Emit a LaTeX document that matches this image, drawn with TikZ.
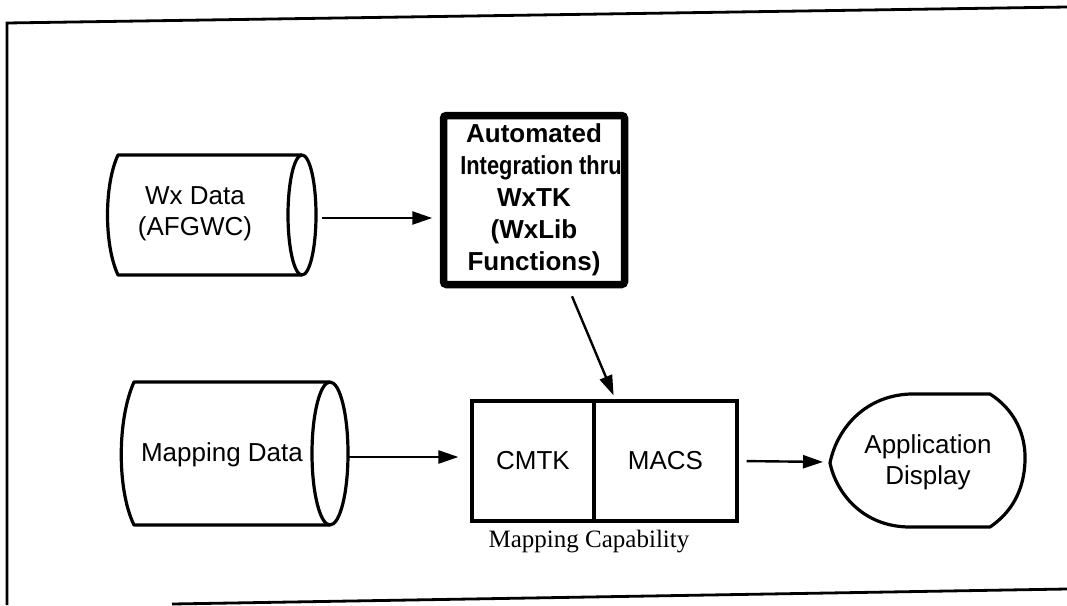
\documentclass[tikz,border=0pt]{standalone}
\usepackage{fontspec}
\usepackage{graphicx}
\setmainfont{Liberation Sans}
\newfontfamily\capserif{Liberation Serif}
\usetikzlibrary{arrows.meta,calc}
\begin{document}
\begin{tikzpicture}[x=1pt,y=-1pt,
  line/.style={line width=3.2pt,line join=round},
  arr/.style={line width=2.4pt,-{Triangle[length=20pt,width=13pt]}},
  lbl/.style={font=\fontsize{26}{31}\selectfont,align=center,inner sep=0pt},
  boxnode/.style={draw,line width=3.2pt,inner sep=0pt,font=\fontsize{26}{31}\selectfont},
  autobox/.style={draw,line width=7.5pt,rounded corners=3pt,minimum width=181pt,minimum height=169pt,inner sep=0pt,font=\bfseries\fontsize{26}{32}\selectfont,align=center}]
\useasboundingbox (0,0) rectangle (1067,605);
% frame
\draw[line width=2.8pt] (7,605) -- (7,23) -- (1067,7);
\draw[line width=2.8pt] (172,604) -- (1067,589);
% Wx data cylinder
\draw[line] (302,155) -- (118,155) .. controls (104,185) and (104,245) .. (118,275) -- (302,275);
\draw[line] (302,215) ellipse [x radius=14, y radius=60];
\node[lbl] (wx) at (195,214) {Wx Data\\(AFGWC)};
\coordinate (wxR) at (316,218);
% automated box
\node[autobox] (auto) at (534,200) {Automated\\\hspace*{14pt}\scalebox{0.84}[1]{Integration thru}\\WxTK\\(WxLib\\Functions)};
% Mapping data cylinder
\draw[line] (330,382) -- (134,382) .. controls (117,420) and (117,490) .. (134,525) -- (330,525);
\draw[line] (330,453.5) ellipse [x radius=18, y radius=71.5];
\node[lbl] (map) at (222,455) {Mapping Data};
\coordinate (mapR) at (348,457);
% mapping capability
\node[boxnode,minimum width=122pt,minimum height=120pt] (cmtk) at (533,461) {CMTK};
\node[boxnode,minimum width=143pt,minimum height=120pt] (macs) at (665.5,461) {MACS};
\node[font=\capserif\fontsize{25}{30}\selectfont,anchor=base,inner sep=0pt] (cap) at (589,547) {Mapping Capability};
% application display
\draw[line] (910,394) -- (990,394) .. controls (1015,410) and (1026,435) .. (1025,461) .. controls (1024,490) and (1012,512) .. (990,527) -- (910,527) .. controls (862,527) and (836,492) .. (830,463) .. controls (836,432) and (862,396) .. (910,394) -- cycle;
\node[lbl] (app) at (928,462) {Application\\Display};
\coordinate (appL) at (830,462);
% arrows
\draw[arr,shorten <=6pt,shorten >=7.5pt] (wxR) -- (wxR -| auto.west);
\draw[arr] ([xshift=38pt,yshift=-8pt]auto.south) -- ([xshift=18pt,yshift=4pt]cmtk.north east);
\draw[arr,shorten >=12pt] (mapR) -- (mapR -| cmtk.west);
\draw[arr,shorten <=8pt,shorten >=7pt] (macs.east) -- (appL);
\end{tikzpicture}
\end{document}
